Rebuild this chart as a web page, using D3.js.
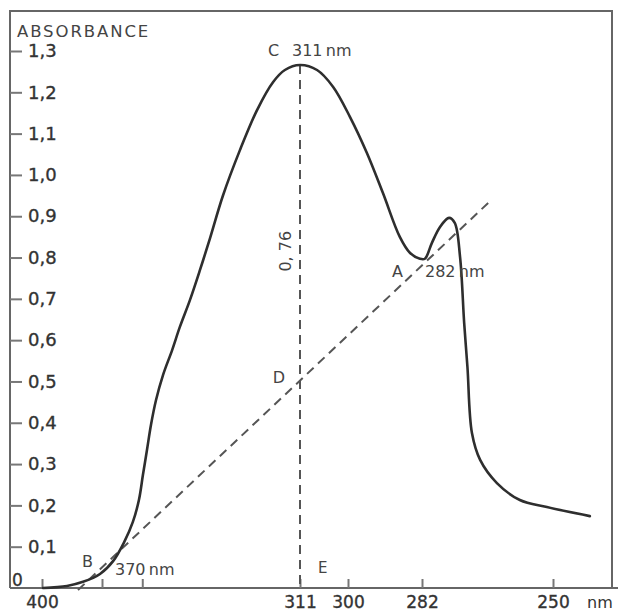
<!DOCTYPE html>
<html>
<head>
<meta charset="utf-8">
<script src="https://cdn.jsdelivr.net/npm/d3@7"></script>
<style>
  html, body { margin: 0; padding: 0; background: #fff; }
  svg { display: block; }
  text { font-family: "DejaVu Sans", sans-serif; }
</style>
</head>
<body>
<svg id="chart" width="618" height="613"></svg>
<script>
// ---- data ----
// wavelength (nm) of each traced point of the absorption curve
const curveNm = [399.5, 387.5, 379.5, 371, 366.7, 363.4, 360.8, 359.0, 357.8, 356.6, 355.4,
  353.9, 351.8, 349.1, 346.8, 343.8, 340.8, 337.8, 334.0, 328.9, 323.8, 319.0, 315.5, 311,
  307.1, 303.4, 299.5, 295.4, 291.5, 287.4, 284.9, 282.5, 281.3, 279.6, 277.6, 275.4, 274.0,
  272.7, 271.7, 270.9, 269.8, 267.8, 263.7, 258.1, 251.5, 241.0];
// absorbance at each of those wavelengths
const curveAbs = [0.0, 0.005, 0.015, 0.034, 0.065, 0.111, 0.160, 0.213, 0.274, 0.334, 0.395,
  0.455, 0.516, 0.576, 0.632, 0.697, 0.770, 0.847, 0.949, 1.060, 1.157, 1.225, 1.254, 1.266,
  1.254, 1.213, 1.14, 1.053, 0.956, 0.85, 0.811, 0.797, 0.797, 0.835, 0.874, 0.896, 0.884,
  0.801, 0.642, 0.535, 0.375, 0.31, 0.254, 0.213, 0.196, 0.174];

// tangent (base) line through B and A
const tangentNm = [382, 265];
const tangentAbs = [-0.005, 0.94];

// perpendicular C-E at the maximum
const peakNm = 311;
const peakAbs = 1.266;
const pointDAbs = 0.50;

// axis ticks
const yTicks = [0.1, 0.2, 0.3, 0.4, 0.5, 0.6, 0.7, 0.8, 0.9, 1.0, 1.1, 1.2, 1.3];
const xTicks = [400, 370, 358, 311, 300, 282, 250];
const xTickLabels = [400, 311, 300, 282, 250];

// ---- scales (hand-drawn, non uniform wavelength axis) ----
const x = d3.scaleLinear()
  .domain([400, 370, 311, 300, 282, 250])
  .range([42, 102, 300, 348, 422, 553]);
const y = d3.scaleLinear().domain([0, 1.3]).range([588, 51]);

const svg = d3.select("#chart");
const ink = "#2e2e2e";
const frame = "#666";

// frame
svg.append("path")
  .attr("d", "M10,588 V11 H612 V588")
  .attr("fill", "none").attr("stroke", frame).attr("stroke-width", 2);
svg.append("line")
  .attr("x1", 10).attr("x2", 618).attr("y1", y(0)).attr("y2", y(0))
  .attr("stroke", frame).attr("stroke-width", 2);

// y axis (ticks pointing inward)
const yAxis = svg.append("g").attr("transform", "translate(10,0)")
  .call(d3.axisRight(y).tickValues(yTicks).tickSize(12).tickPadding(6)
    .tickFormat(d => d.toFixed(1).replace(".", ",")));
yAxis.select(".domain").remove();
yAxis.selectAll(".tick line").attr("stroke", "#777").attr("stroke-width", 2);
yAxis.selectAll(".tick text")
  .attr("font-family", "DejaVu Sans").attr("font-size", 18)
  .attr("fill", "#333").attr("stroke", "#333").attr("stroke-width", 0.35);

// zero label at the corner
svg.append("text").attr("x", 12).attr("y", y(0) - 2)
  .attr("font-size", 17).attr("fill", "#333").attr("stroke", "#333").attr("stroke-width", 0.3)
  .text("0");

// x axis (ticks pointing up, labels below)
const xAxis = svg.append("g").attr("transform", `translate(0,${y(0)})`)
  .call(d3.axisBottom(x).tickValues(xTicks).tickSizeInner(-9).tickSizeOuter(0).tickPadding(8)
    .tickFormat(d => xTickLabels.includes(d) ? String(d) : ""));
xAxis.select(".domain").remove();
xAxis.selectAll(".tick line").attr("stroke", "#777").attr("stroke-width", 2);
xAxis.selectAll(".tick text")
  .attr("font-family", "DejaVu Sans").attr("font-size", 17)
  .attr("fill", "#333").attr("stroke", "#333").attr("stroke-width", 0.35);
svg.append("text").attr("x", 587).attr("y", 608)
  .attr("font-size", 16).attr("fill", "#333").text("nm");

// axis title
svg.append("text").attr("x", 17).attr("y", 37)
  .attr("font-size", 16.5).attr("letter-spacing", 1.9).attr("fill", "#444")
  .text("ABSORBANCE");

// dashed construction lines
const dashStyle = sel => sel.attr("stroke", "#555").attr("stroke-width", 2)
  .attr("stroke-dasharray", "9,6").attr("fill", "none");
svg.append("line")
  .attr("x1", x(tangentNm[0])).attr("y1", y(tangentAbs[0]))
  .attr("x2", x(tangentNm[1])).attr("y2", y(tangentAbs[1]))
  .call(dashStyle);
svg.append("line")
  .attr("x1", x(peakNm)).attr("y1", y(peakAbs))
  .attr("x2", x(peakNm)).attr("y2", y(0))
  .call(dashStyle);

// absorption curve
const pts = curveNm.map((n, i) => [x(n), y(curveAbs[i])]);
svg.append("path")
  .attr("d", d3.line().curve(d3.curveCatmullRom.alpha(0.5))(pts))
  .attr("fill", "none").attr("stroke", ink).attr("stroke-width", 2.6)
  .attr("stroke-linejoin", "round").attr("stroke-linecap", "round");

// annotations
const lab = (tx, ty, t, size = 16, anchor = "start") =>
  svg.append("text").attr("x", tx).attr("y", ty).attr("font-size", size)
    .attr("text-anchor", anchor).attr("fill", "#444").text(t);

const cx = x(peakNm), cy = y(peakAbs);
lab(cx - 32, cy - 9, "C");
lab(cx - 8, cy - 9, "311\u2009nm");

const dy = y(pointDAbs);
lab(cx - 15, dy + 2, "D", 16, "end");

svg.append("text")
  .attr("transform", `translate(${cx - 9},${(cy + dy) / 2 + 28}) rotate(-90)`)
  .attr("font-size", 16).attr("text-anchor", "middle").attr("fill", "#444")
  .text("0, 76");

const ax = x(282), ay = y(0.797);
lab(ax - 30, ay + 18, "A");
lab(ax + 3, ay + 18, "282\u2009nm");

const bx = x(370), by = y(0.034);
lab(bx - 20, by - 7, "B");
lab(bx + 13, by + 1, "370\u2009nm");

lab(cx + 18, y(0) - 15, "E", 15);
</script>
</body>
</html>
